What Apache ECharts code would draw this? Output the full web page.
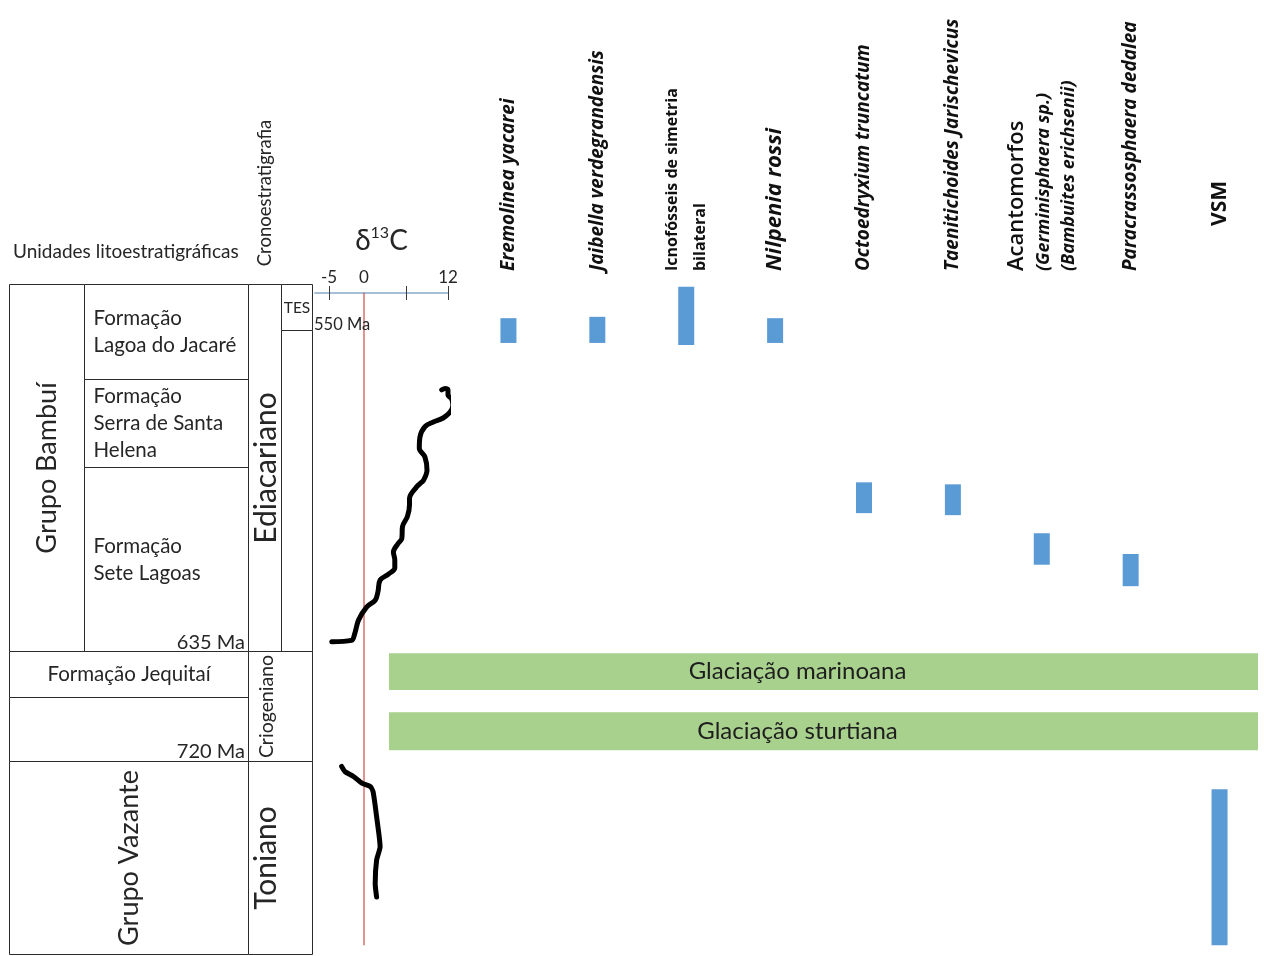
<!DOCTYPE html>
<html>
<head>
<meta charset="utf-8">
<script src="https://cdn.jsdelivr.net/npm/echarts@6/dist/echarts.min.js"></script>
<style>
  html, body { margin: 0; padding: 0; background: #ffffff; }
  #chart { width: 1264px; height: 956px; }
</style>
</head>
<body>
<div id="chart"></div>
<script>
// ---------------------------------------------------------------------------
// Data. Vertical scale: relative stratigraphic position, 0 = top of column,
// 100 = base of column (shared by every panel).
// ---------------------------------------------------------------------------

// Stratigraphic table cells: [text, first column, last column, top, base, kind]
const unidades = [
  ['Grupo Bambuí', 0, 1, 0, 54.8, 'grupo'],
  ['Formação\nLagoa do Jacaré', 1, 2, 0, 14.2, 'formacao'],
  ['Formação\nSerra de Santa\nHelena', 1, 2, 14.2, 27.3, 'formacao'],
  ['Formação\nSete Lagoas', 1, 2, 27.3, 54.8, 'formacao'],
  ['Ediacariano', 2, 3, 0, 54.8, 'periodo'],
  ['TES', 3, 4, 0, 6.9, 'andar'],
  ['', 3, 4, 6.9, 54.8, 'andar'],
  ['Formação Jequitaí', 0, 2, 54.8, 61.6, 'formacaoCentro'],
  ['', 0, 2, 61.6, 71.2, 'formacao'],
  ['Criogeniano', 2, 4, 54.8, 71.2, 'periodoMenor'],
  ['Grupo Vazante', 0, 2, 71.2, 100, 'grupo'],
  ['Toniano', 2, 4, 71.2, 100, 'periodo']
];

// Age boundaries: [label, position, column edge the label hangs on]
const idades = [
  ['550 Ma', 6.9, 4],
  ['635 Ma', 54.8, 2],
  ['720 Ma', 71.2, 2]
];

// δ13C curve through the Bambuí Group: [δ13C ‰, position]
const d13cBambui = [
  [-4.6, 53.4], [-1.8, 53.2], [-1.3, 52.1], [-0.8, 50.2], [0.4, 48.2],
  [1.6, 47.2], [2.0, 45.9], [2.3, 44.2], [3.5, 43.3], [4.4, 42.4],
  [4.4, 41.2], [4.2, 40.0], [4.9, 38.7], [5.4, 38.0], [5.5, 36.2],
  [6.2, 34.7], [6.5, 33.0], [6.5, 32.0], [7.5, 30.3], [8.0, 29.8],
  [8.5, 29.3], [9.0, 27.8], [8.7, 25.8], [7.9, 24.5], [8.0, 22.8],
  [8.7, 21.3], [9.9, 20.6], [11.3, 20.0], [12.3, 19.1], [12.7, 18.1],
  [12.5, 17.1], [12.0, 16.6], [12.0, 15.8], [11.6, 15.6], [11.1, 15.8]
];

// δ13C curve through the Vazante Group: [δ13C ‰, position]
const d13cVazante = [
  [-3.2, 72.0], [-2.7, 72.8], [-1.5, 73.5], [-0.3, 74.5], [0.9, 75.0],
  [1.3, 75.8], [1.8, 79.5], [2.3, 84.0], [1.8, 86.0], [1.6, 89.5], [1.8, 91.5]
];

// δ13C scale
const d13cTicks = [-5, 6, 12];
const d13cRotulos = [-5, 0, 12];
const linhaZero = [[0, 1.3], [0, 98.7]];

// Fossil records
const taxons = [
  'Eremolinea yacarei',
  'Jaibella verdegrandensis',
  'Icnofósseis de simetria\nbilateral',
  'Nilpenia rossi',
  'Octoedryxium truncatum',
  'Taenitichoides Jarischevicus',
  'Acantomorfos\n(Germinisphaera sp.)\n(Bambuites erichsenii)',
  'Paracrassosphaera dedalea',
  'VSM'
];
const ocorrenciaTopo = [5.1, 4.9, 0.4, 5.1, 29.6, 29.9, 37.2, 40.3, 75.4];
const ocorrenciaBase = [8.8, 8.8, 9.1, 8.8, 34.2, 34.5, 41.9, 45.1, 98.7];

// Glaciations: [name, top, base]
const glaciacoes = [
  ['Glaciação marinoana', 55.1, 60.6],
  ['Glaciação sturtiana', 63.9, 69.6]
];

// ---------------------------------------------------------------------------
// Layout and styles
// ---------------------------------------------------------------------------
const LARGURA_QUADRO = 303;
const bordasColunas = [0, 75, 239, 272, LARGURA_QUADRO];
const FONTE_QUADRO = 'Lato, "Open Sans", sans-serif';
const FONTE_TAXON = '"Open Sans", Lato, sans-serif';
const COR_TEXTO = '#262626';
const COR_LINHA = '#2b2b2b';
const AZUL = '#5b9bd5';
const VERDE = '#a9d18e';

const estiloTexto = {
  grupo: { fontSize: 27, rot: true },
  formacao: { fontSize: 20.5, lineHeight: 27 },
  formacaoCentro: { fontSize: 20.5 },
  periodo: { fontSize: 30, rot: true },
  periodoMenor: { fontSize: 19.5, rot: true },
  andar: { fontSize: 15.5 }
};

function desenhaCelula(params, api) {
  const u = unidades[params.dataIndex];
  const texto = u[0], tipo = u[5];
  const p0 = api.coord([api.value(0), api.value(2)]);
  const p1 = api.coord([api.value(1), api.value(3)]);
  const x0 = Math.round(p0[0]) + 0.5, y0 = Math.round(p0[1]) + 0.5;
  const x1 = Math.round(p1[0]) + 0.5, y1 = Math.round(p1[1]) + 0.5;
  const filhos = [{
    type: 'rect',
    shape: { x: x0, y: y0, width: x1 - x0, height: y1 - y0 },
    style: { fill: '#ffffff', stroke: COR_LINHA, lineWidth: 1 }
  }];
  if (texto) {
    const est = estiloTexto[tipo];
    let cx = (x0 + x1) / 2;
    const cy = (y0 + y1) / 2;
    let align = 'center';
    if (tipo === 'formacao') { cx = x0 + 9; align = 'left'; }
    if (tipo === 'periodo' || tipo === 'periodoMenor') {
      // period names sit in the period column even where the cell is merged
      const a = api.coord([bordasColunas[2], 0])[0];
      const b = api.coord([bordasColunas[3], 0])[0];
      cx = (a + b) / 2 + 2;
    }
    filhos.push({
      type: 'text',
      x: cx, y: cy,
      rotation: est.rot ? Math.PI / 2 : 0,
      style: {
        text: texto,
        fontSize: est.fontSize,
        lineHeight: est.lineHeight || est.fontSize * 1.3,
        fontFamily: FONTE_QUADRO,
        fill: COR_TEXTO,
        align: align,
        verticalAlign: 'middle'
      }
    });
  }
  return { type: 'group', children: filhos };
}

function desenhaIdade(params, api) {
  const idade = idades[params.dataIndex];
  const p = api.coord([api.value(0), api.value(1)]);
  const fora = idade[2] === bordasColunas.length - 1;
  return {
    type: 'text',
    x: fora ? p[0] + 2 : p[0] - 3,
    y: p[1] + (fora ? 3 : 1),
    style: {
      text: idade[0],
      fontSize: fora ? 16.5 : 20,
      fontFamily: FONTE_QUADRO,
      fill: COR_TEXTO,
      align: fora ? 'left' : 'right',
      verticalAlign: 'bottom'
    }
  };
}

function desenhaOcorrencia(params, api) {
  const topo = api.coord([api.value(0), api.value(1)]);
  const base = api.coord([api.value(0), api.value(2)]);
  const largura = api.size([1, 0])[0] * 0.18;
  return {
    type: 'rect',
    shape: { x: topo[0] - largura / 2, y: topo[1], width: largura, height: base[1] - topo[1] },
    style: { fill: AZUL }
  };
}

function desenhaGlaciacao(params, api) {
  const g = glaciacoes[params.dataIndex];
  const p0 = api.coord([0, api.value(1)]);
  const p1 = api.coord([1, api.value(2)]);
  return {
    type: 'group',
    children: [
      { type: 'rect', shape: { x: p0[0], y: p0[1], width: p1[0] - p0[0], height: p1[1] - p0[1] }, style: { fill: VERDE } },
      {
        type: 'text', x: (p0[0] + p1[0]) / 2 - 26, y: (p0[1] + p1[1]) / 2,
        style: { text: g[0], fontSize: 24, fontFamily: FONTE_QUADRO, fill: '#1e1e1e', align: 'center', verticalAlign: 'middle' }
      }
    ]
  };
}

function rotuloTaxon(nome) {
  if (nome === 'VSM') return '{vsm|VSM}';
  if (nome.startsWith('Acantomorfos')) {
    const l = nome.split('\n');
    return '{acanto|' + l[0] + '}\n{paren|' + l[1] + '}\n{paren|' + l[2] + '}';
  }
  if (nome.startsWith('Icnofósseis')) {
    return nome.split('\n').map(function (l) { return '{icno|' + l + '}'; }).join('\n');
  }
  if (nome === 'Nilpenia rossi') return '{nil|' + nome + '}';
  return '{esp|' + nome + '}';
}

const eixoVertical = [0, 1, 2, 3].map(function (i) {
  return { type: 'value', gridIndex: i, min: 0, max: 100, inverse: true, show: false };
});

const option = {
  animation: false,
  backgroundColor: '#ffffff',
  graphic: [
    {
      type: 'text', x: 13, y: 252,
      style: { text: 'Unidades litoestratigráficas', fontSize: 19, fontFamily: FONTE_QUADRO, fill: COR_TEXTO, verticalAlign: 'middle' }
    },
    {
      type: 'text', x: 265, y: 193, rotation: Math.PI / 2,
      style: { text: 'Cronoestratigrafia', fontSize: 18.5, fontFamily: FONTE_QUADRO, fill: COR_TEXTO, align: 'center', verticalAlign: 'middle' }
    }
  ],
  grid: [
    { left: 9, top: 284, width: 303, height: 670 },
    { left: 315, top: 284, width: 133, height: 670 },
    { left: 464, top: 284, width: 806, height: 670 },
    { left: 389, top: 284, width: 869, height: 670 }
  ],
  xAxis: [
    { type: 'value', gridIndex: 0, min: 0, max: LARGURA_QUADRO, show: false },
    {
      type: 'value', gridIndex: 1, min: -7, max: 12, position: 'top', offset: -9,
      name: '{d|δ}{s|13}{d|C}', nameLocation: 'middle', nameGap: 36,
      nameTextStyle: {
        rich: {
          d: { fontSize: 28, fontFamily: FONTE_QUADRO, color: COR_TEXTO, lineHeight: 32 },
          s: { fontSize: 16, fontFamily: FONTE_QUADRO, color: COR_TEXTO, verticalAlign: 'top', lineHeight: 32, padding: [0, 0, 13, 0] }
        }
      },
      axisLine: { show: true, lineStyle: { color: '#a7bfd6', width: 2 } },
      axisTick: { show: true, customValues: d13cTicks, length: 7, lineStyle: { color: '#3a3a3a', width: 1 } },
      axisLabel: { show: true, customValues: d13cRotulos, fontSize: 17, fontFamily: FONTE_QUADRO, color: COR_TEXTO, margin: 7 },
      splitLine: { show: false }
    },
    {
      type: 'value', gridIndex: 1, min: -7, max: 12, position: 'top', offset: -9,
      axisLine: { show: false },
      axisTick: { show: true, inside: true, customValues: d13cTicks, length: 7, lineStyle: { color: '#3a3a3a', width: 1 } },
      axisLabel: { show: false },
      splitLine: { show: false }
    },
    {
      type: 'category', gridIndex: 2, data: taxons, position: 'top',
      axisLine: { show: false }, axisTick: { show: false }, splitLine: { show: false },
      axisLabel: {
        interval: 0, rotate: 90, margin: 13,
        formatter: function (v) { return rotuloTaxon(v); },
        rich: {
          esp: { fontSize: 19, fontStyle: 'italic', fontWeight: 'bold', fontFamily: FONTE_TAXON, color: '#111', lineHeight: 24 },
          icno: { fontSize: 16, fontWeight: 'bold', fontFamily: FONTE_TAXON, color: '#111', lineHeight: 28 },
          nil: { fontSize: 22, fontStyle: 'italic', fontWeight: 'bold', fontFamily: FONTE_TAXON, color: '#111', lineHeight: 28 },
          acanto: { fontSize: 22, fontWeight: 600, fontFamily: FONTE_TAXON, color: '#111', lineHeight: 30 },
          paren: { fontSize: 18, fontStyle: 'italic', fontWeight: 'bold', fontFamily: FONTE_TAXON, color: '#111', lineHeight: 25 },
          vsm: { fontSize: 21, fontWeight: 'bold', fontFamily: FONTE_TAXON, color: '#111', padding: [0, 0, 0, 45] }
        }
      }
    },
    { type: 'value', gridIndex: 3, min: 0, max: 1, show: false }
  ],
  yAxis: eixoVertical,
  series: [
    {
      type: 'custom', name: 'Quadro estratigráfico', xAxisIndex: 0, yAxisIndex: 0,
      renderItem: desenhaCelula,
      data: unidades.map(function (u) { return [bordasColunas[u[1]], bordasColunas[u[2]], u[3], u[4]]; }),
      encode: { x: [0, 1], y: [2, 3] }, silent: true, z: 2
    },
    {
      type: 'custom', name: 'Idades', xAxisIndex: 0, yAxisIndex: 0,
      renderItem: desenhaIdade,
      data: idades.map(function (a) { return [bordasColunas[a[2]], a[1]]; }),
      encode: { x: 0, y: 1 }, silent: true, z: 4
    },
    {
      type: 'line', name: 'δ13C = 0', xAxisIndex: 1, yAxisIndex: 1,
      data: linhaZero, symbol: 'none', silent: true,
      lineStyle: { color: '#cf4b4b', width: 1.2 }, z: 3
    },
    {
      type: 'line', name: 'δ13C Grupo Bambuí', xAxisIndex: 1, yAxisIndex: 1,
      data: d13cBambui, symbol: 'none', smooth: 0.35, silent: true,
      lineStyle: { color: '#000000', width: 5, cap: 'round', join: 'round' }, z: 5
    },
    {
      type: 'line', name: 'δ13C Grupo Vazante', xAxisIndex: 1, yAxisIndex: 1,
      data: d13cVazante, symbol: 'none', smooth: 0.2, silent: true,
      lineStyle: { color: '#000000', width: 5, cap: 'round', join: 'round' }, z: 5
    },
    {
      type: 'custom', name: 'Glaciações', xAxisIndex: 4, yAxisIndex: 3,
      renderItem: desenhaGlaciacao,
      data: glaciacoes.map(function (g, i) { return [i, g[1], g[2]]; }),
      encode: { y: [1, 2] }, silent: true, z: 1
    },
    {
      type: 'custom', name: 'Ocorrências', xAxisIndex: 3, yAxisIndex: 2,
      renderItem: desenhaOcorrencia,
      data: taxons.map(function (t, i) { return [i, ocorrenciaTopo[i], ocorrenciaBase[i]]; }),
      encode: { x: 0, y: [1, 2] }, silent: true, z: 3
    }
  ]
};

const grafico = echarts.init(document.getElementById('chart'), null, { renderer: 'canvas' });
grafico.setOption(option);
</script>
</body>
</html>
